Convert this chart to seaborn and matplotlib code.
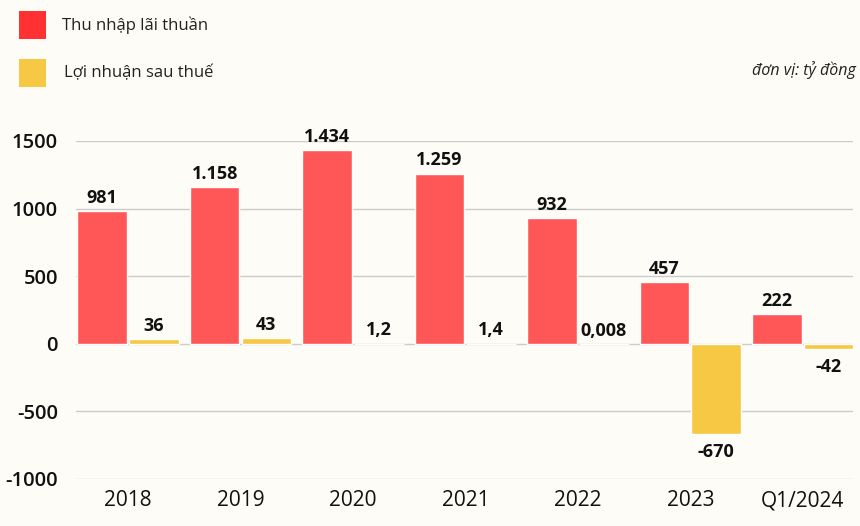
import matplotlib
matplotlib.use("Agg")
import matplotlib.pyplot as plt
import seaborn as sns
import pandas as pd
from matplotlib.patches import Rectangle

categories = ["2018", "2019", "2020", "2021", "2022", "2023", "Q1/2024"]
thu_nhap = [981, 1158, 1434, 1259, 932, 457, 222]
loi_nhuan = [36, 43, 1.2, 1.4, 0.008, -670, -42]
thu_nhap_labels = ["981", "1.158", "1.434", "1.259", "932", "457", "222"]
loi_nhuan_labels = ["36", "43", "1,2", "1,4", "0,008", "-670", "-42"]
series_names = ["Thu nhập lãi thuần", "Lợi nhuận sau thuế"]
yticks = [-1000, -500, 0, 500, 1000, 1500]

bg = "#FDFCF6"
red = "#FF5757"
yellow = "#F7C843"

df = pd.DataFrame({
    "cat": categories * 2,
    "val": thu_nhap + loi_nhuan,
    "series": [series_names[0]] * len(categories) + [series_names[1]] * len(categories),
})

sns.set_theme(style="white")
plt.rcParams["font.family"] = ["Open Sans", "DejaVu Sans"]

W, H = 860, 526
fig = plt.figure(figsize=(8.6, 5.26), dpi=100, facecolor=bg)
ax = fig.add_axes([76 / W, 0.0894, 777 / W, 0.6426], facecolor=bg)

sns.barplot(data=df, x="cat", y="val", hue="series", palette=[red, yellow],
            width=0.92, gap=0.04, ax=ax, legend=False, saturation=1)

ax.set_xlim(-0.463, 6.447)
ax.set_ylim(-1000, 1500)
ax.set_yticks(yticks)
ax.set_yticklabels([str(t) for t in yticks], fontsize=14.5, fontweight="semibold", color="#111111")
ax.set_xlabel("")
ax.set_ylabel("")
ax.tick_params(axis="x", labelsize=15, colors="#111111", length=0, pad=8)
ax.tick_params(axis="y", length=0, pad=13)
for lbl in ax.get_xticklabels():
    lbl.set_fontweight("medium")
ax.yaxis.grid(True, color="#CCCCCC", linewidth=1)
ax.set_axisbelow(True)
for s in ax.spines.values():
    s.set_visible(False)

containers = ax.containers
for cont, labels in zip(containers, [thu_nhap_labels, loi_nhuan_labels]):
    for bar, lab in zip(cont, labels):
        h = bar.get_height()
        x = bar.get_x() + bar.get_width() / 2
        if h >= 0:
            ax.annotate(lab, (x, h), xytext=(0, 3), textcoords="offset points",
                        ha="center", va="bottom", fontsize=13, fontweight="bold",
                        color="#111111", annotation_clip=False)
        else:
            ax.annotate(lab, (x, h), xytext=(0, -6), textcoords="offset points",
                        ha="center", va="top", fontsize=13, fontweight="bold",
                        color="#111111", annotation_clip=False)

# legend
def fx(px):
    return px / W
def fy(py):
    return 1 - py / H
fig.patches.append(Rectangle((fx(19), fy(39)), 27 / W, 28 / H, transform=fig.transFigure,
                             facecolor="#FF3131", edgecolor="none"))
fig.patches.append(Rectangle((fx(19), fy(87)), 27 / W, 28 / H, transform=fig.transFigure,
                             facecolor=yellow, edgecolor="none"))
fig.text(fx(62), fy(25), series_names[0], fontsize=12, color="#222222", va="center", ha="left")
fig.text(fx(64), fy(73), series_names[1], fontsize=12, color="#222222", va="center", ha="left")
fig.text(fx(856), fy(70), "đơn vị: tỷ đồng", fontsize=11.5, style="italic", color="#222222",
         va="center", ha="right")

fig.savefig("out.png", dpi=100, facecolor=bg)
